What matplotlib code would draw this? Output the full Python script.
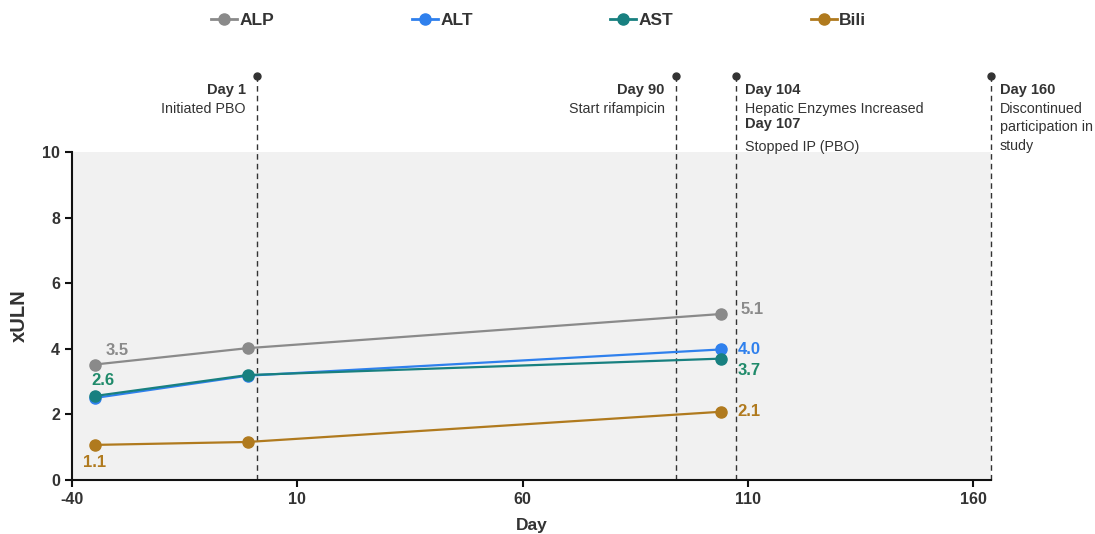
import matplotlib
matplotlib.use("Agg")
import matplotlib.pyplot as plt
from matplotlib.lines import Line2D

plt.rcParams['font.family'] = ['Liberation Sans', 'DejaVu Sans']
plt.rcParams['axes.unicode_minus'] = False

# Lab values (multiples of upper limit of normal) by study day
days = [-35, -1, 104]
series_names = ["ALP", "ALT", "AST", "Bili"]
alp = [3.52, 4.02, 5.06]
alt = [2.50, 3.18, 3.98]
ast = [2.56, 3.20, 3.70]
bili = [1.07, 1.16, 2.08]

line_colors = ["#8a8a8a", "#2f80ed", "#188080", "#b07a1e"]
label_colors = ["#8a8a8a", "#2f80ed", "#1f8a6a", "#b07a1e"]

# Labelled values shown on the chart: (series index, point index, text)
value_labels = [
    (0, 0, "3.5"), (2, 0, "2.6"), (3, 0, "1.1"),
    (0, 2, "5.1"), (1, 2, "4.0"), (2, 2, "3.7"), (3, 2, "2.1"),
]

# Timeline events: x position, heading, description, side of the line
event_x = [1, 94, 107.5, 164]
event_titles = ["Day 1", "Day 90", "Day 104", "Day 160"]
event_texts = ["Initiated PBO", "Start rifampicin", "Hepatic Enzymes Increased",
               "Discontinued\nparticipation in\nstudy"]
event_side = ["left", "left", "right", "right"]
extra_title = "Day 107"
extra_text = "Stopped IP (PBO)"

x_ticks = [-40, 10, 60, 110, 160]
y_ticks = [0, 2, 4, 6, 8, 10]

fig = plt.figure(figsize=(10.95, 5.34), dpi=100)
ax = fig.add_axes([0.0658, 0.1011, 0.8392, 0.6143])
ax.set_facecolor("#f1f1f1")
ax.set_xlim(-40, 164)
ax.set_ylim(0, 10)

values = [alp, alt, ast, bili]
for vals, col, name in zip(values, line_colors, series_names):
    ax.plot(days, vals, color=col, lw=1.6, marker="o", ms=8, label=name, zorder=3,
            clip_on=False)

# Value annotations
offsets = {
    (0, 0): (8, 5, "left", "bottom"),
    (2, 0): (-2, 6, "left", "bottom"),
    (3, 0): (0, -7, "center", "top"),
    (0, 2): (14, 3, "left", "center"),
    (1, 2): (12, 0, "left", "center"),
    (2, 2): (12, -8.5, "left", "center"),
    (3, 2): (12, 0, "left", "center"),
}
for si, pi, txt in value_labels:
    dx, dy, ha, va = offsets[(si, pi)]
    ax.annotate(txt, (days[pi], values[si][pi]), xytext=(dx, dy),
                textcoords="offset points", ha=ha, va=va, fontsize=12,
                fontweight="bold", color=label_colors[si])

# Event lines with dot on top
top_y = 12.32
title_y = 11.89
for x, title, desc, side in zip(event_x, event_titles, event_texts, event_side):
    ax.plot([x, x], [0, top_y], ls=(0, (4, 3)), color="#333333", lw=1.0,
            clip_on=False, zorder=2)
    ax.plot([x], [top_y], "o", color="#333333", ms=5, clip_on=False, zorder=4)
    if side == "left":
        tx, ha = -8, "right"
    else:
        tx, ha = 6.5, "left"
    ax.annotate(title, (x, title_y), xytext=(tx, 0), textcoords="offset points",
                ha=ha, va="center", fontsize=10.5, fontweight="bold", color="#333333",
                annotation_clip=False)
    ax.annotate(desc, (x, title_y), xytext=(tx, -8.5), textcoords="offset points",
                ha=ha, va="top", fontsize=10.3, color="#333333",
                annotation_clip=False, linespacing=1.42)

extra_y = 10.85
ax.annotate(extra_title, (event_x[2], extra_y), xytext=(6.5, 0), textcoords="offset points",
            ha="left", va="center", fontsize=10.5, fontweight="bold", color="#333333",
            annotation_clip=False)
ax.annotate(extra_text, (event_x[2], extra_y), xytext=(6.5, -11.5), textcoords="offset points",
            ha="left", va="top", fontsize=10.3, color="#333333",
            annotation_clip=False)

# Axes styling
for s in ["top", "right"]:
    ax.spines[s].set_visible(False)
for s in ["left", "bottom"]:
    ax.spines[s].set_linewidth(1.5)
    ax.spines[s].set_color("#111111")
ax.set_xticks(x_ticks)
ax.set_yticks(y_ticks)
ax.tick_params(axis="both", length=5, width=1.5, colors="#111111", labelsize=11.5,
               labelcolor="#333333")
for lab in ax.get_xticklabels() + ax.get_yticklabels():
    lab.set_fontweight("bold")
ax.set_xlabel("Day", fontsize=12.5, fontweight="bold", color="#333333", labelpad=8)
ax.set_ylabel("xULN", fontsize=14.5, fontweight="bold", color="#333333", labelpad=10)

handles = [Line2D([0], [0], color=c, lw=2, marker="o", ms=8) for c in line_colors]
leg = fig.legend(handles, series_names, loc="upper center", bbox_to_anchor=(0.492, 1.005),
                 ncol=4, frameon=False, columnspacing=7.9, handlelength=1.5,
                 handletextpad=0.15, prop={"weight": "bold", "size": 12.5})
for t in leg.get_texts():
    t.set_color("#333333")

fig.savefig("out.png", dpi=100)
